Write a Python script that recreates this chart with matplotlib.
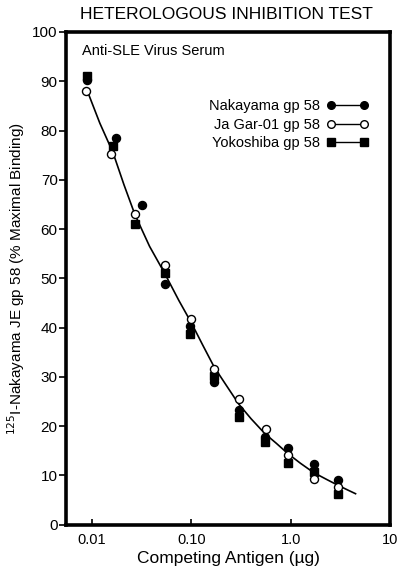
import matplotlib
matplotlib.use("Agg")
import matplotlib.pyplot as plt
from matplotlib.ticker import FixedLocator, NullLocator

plt.rcParams['font.family'] = ['Liberation Sans', 'DejaVu Sans']

# dose (ug) and % maximal binding for each antigen
naka_x = [0.0089, 0.0174, 0.032, 0.054, 0.098, 0.17, 0.30, 0.55, 0.93, 1.7, 3.0]
naka_y = [90.3, 78.5, 64.8, 48.8, 40.3, 29.0, 23.3, 17.8, 15.5, 12.3, 9.0]

jagar_x = [0.0088, 0.0155, 0.027, 0.054, 0.100, 0.17, 0.30, 0.56, 0.93, 1.7, 3.0]
jagar_y = [88.0, 75.2, 63.0, 52.7, 41.7, 31.6, 25.5, 19.5, 14.2, 9.2, 7.6]

yoko_x = [0.0089, 0.0163, 0.027, 0.054, 0.098, 0.17, 0.30, 0.55, 0.93, 1.7, 3.0]
yoko_y = [91.0, 76.8, 61.0, 51.0, 38.7, 30.2, 21.8, 16.8, 12.5, 10.8, 6.2]

# fitted inhibition curve
curve_x = [0.0088, 0.012, 0.0163, 0.021, 0.027, 0.038, 0.054, 0.075, 0.10,
           0.13, 0.17, 0.23, 0.30, 0.40, 0.55, 0.72, 0.93, 1.25, 1.7, 2.3, 3.0, 3.8, 4.5]
curve_y = [88.5, 81.5, 75.5, 69.0, 63.0, 56.5, 51.0, 45.5, 41.0,
           36.5, 32.0, 28.0, 24.5, 21.5, 18.5, 16.5, 14.5, 12.5, 10.6, 9.2, 8.0, 7.0, 6.3]

fig = plt.figure(figsize=(4.0, 5.71), dpi=100)
ax = fig.add_axes([0.165, 0.081, 0.81, 0.863])

ax.plot(curve_x, curve_y, color='black', lw=1.2, zorder=2)
ax.plot(naka_x, naka_y, 'o', color='black', ms=5.8, zorder=3)
ax.plot(jagar_x, jagar_y, 'o', mfc='white', mec='black', mew=1.0, ms=5.8, zorder=4)
ax.plot(yoko_x, yoko_y, 's', color='black', ms=5.2, zorder=3)

# legend: text first, then a short line with a marker at each end
handles = []
for mk, fc in [('o', 'black'), ('o', 'white'), ('s', 'black')]:
    h, = ax.plot([], [], marker=mk, mfc=fc, mec='black', color='black', lw=1.0, ms=5.5)
    handles.append(h)
ax.legend(handles, ['Nakayama gp 58', 'Ja Gar-01 gp 58', 'Yokoshiba gp 58'],
          markerfirst=False, numpoints=2, frameon=False, loc='upper right',
          bbox_to_anchor=(0.975, 0.89), handlelength=2.9, handletextpad=0.45,
          labelspacing=0.3, fontsize=10.5)

ax.set_xscale('log')
ax.set_xlim(0.00548, 10)
ax.set_ylim(0, 100)
ax.xaxis.set_major_locator(FixedLocator([0.01, 0.1, 1.0, 10]))
ax.xaxis.set_minor_locator(NullLocator())
ax.set_xticklabels(['0.01', '0.10', '1.0', '10'])
ax.set_yticks(range(0, 101, 10))

for s in ax.spines.values():
    s.set_linewidth(2.6)
ax.tick_params(axis='y', direction='out', length=5, width=1.2, labelsize=11, pad=1)
ax.tick_params(axis='x', direction='in', length=4, width=1.2, labelsize=10.5, pad=6)

ax.set_xlabel('Competing Antigen (\u00b5g)', fontsize=12.5, labelpad=3)
ax.set_ylabel('$^{125}$I-Nakayama JE gp 58 (% Maximal Binding)', fontsize=11, labelpad=4)

ax.text(0.05, 0.975, 'Anti-SLE Virus Serum', transform=ax.transAxes,
        fontsize=10.5, va='top', ha='left')
fig.text(0.567, 0.975, 'HETEROLOGOUS INHIBITION TEST', ha='center', va='center',
         fontsize=12.5)

fig.savefig('out.png', dpi=100)
